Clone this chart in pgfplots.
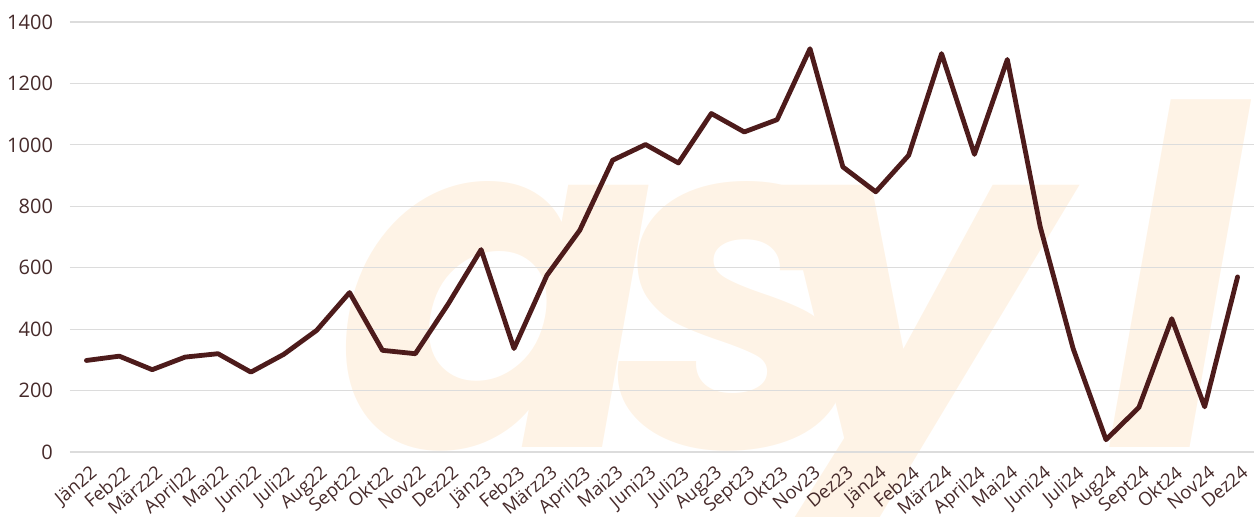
\documentclass[border=0pt]{standalone}
\usepackage{pgfplots}
\pgfplotsset{compat=1.18}
\usepackage{fontspec}
\setmainfont{Open Sans}
\newfontfamily\wmfont{Poppins}
\definecolor{linec}{RGB}{77,27,27}
\definecolor{textc}{RGB}{70,42,42}
\definecolor{gridc}{RGB}{220,220,220}
\definecolor{wmc}{RGB}{254,243,230}
\begin{document}
\begin{tikzpicture}
\begin{axis}[
  set layers,
  scale only axis,
  width=592pt, height=215pt,
  xmin=-0.5, xmax=35.5,
  ymin=0, ymax=1400,
  ytick={0,200,...,1400},
  xtick={0,...,35},
  xticklabels={Jän22,Feb22,März22,April22,Mai22,Juni22,Juli22,Aug22,Sept22,Okt22,Nov22,Dez22,Jän23,Feb23,März23,April23,Mai23,Juni23,Juli23,Aug23,Sept23,Okt23,Nov23,Dez23,Jän24,Feb24,März24,April24,Mai24,Juni24,Juli24,Aug24,Sept24,Okt24,Nov24,Dez24},
  axis line style={draw=none},
  major tick length=0pt,
  ymajorgrids,
  grid style={gridc, line width=0.6pt},
  clip=false,
  /pgf/number format/assume math mode=true,
  /pgf/number format/1000 sep={},
  yticklabel style={font=\fontsize{10}{12}\selectfont, text=textc, anchor=east, xshift=-5pt},
  xticklabel style={font=\fontsize{9.2}{11}\selectfont, text=textc, inner sep=0pt, xshift=1.5pt, yshift=-6pt, rotate=40, anchor=north east},
]
\begin{pgfonlayer}{axis background}
\node[overlay, anchor=base west, inner sep=0pt, text=wmc, font=\wmfont\bfseries\itshape\fontsize{235}{235}\selectfont] at (axis cs:7.6,15) {a\kern-22pt s\kern-57pt y\kern24pt l};
\end{pgfonlayer}
\addplot[linec, line width=2.4pt, line join=round, line cap=round] coordinates {
(0,298) (1,312) (2,268) (3,309) (4,320) (5,260) (6,318) (7,396) (8,519) (9,331)
(10,320) (11,482) (12,659) (13,337) (14,575) (15,722) (16,950) (17,1001) (18,941) (19,1102)
(20,1042) (21,1082) (22,1313) (23,928) (24,847) (25,966) (26,1297) (27,969) (28,1278) (29,733)
(30,337) (31,40) (32,145) (33,434) (34,147) (35,570)
};
\end{axis}
\pgfresetboundingbox
\path[use as bounding box] (-35pt,-32.5pt) rectangle (594pt,226pt);
\end{tikzpicture}
\end{document}
